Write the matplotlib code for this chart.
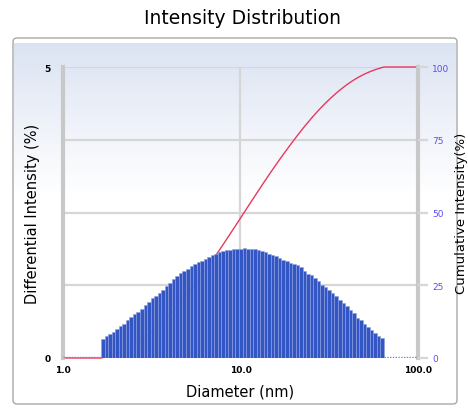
import numpy as np
import matplotlib
matplotlib.use("Agg")
import matplotlib.pyplot as plt
from matplotlib.patches import FancyBboxPatch

# differential intensity (%) per size bin
intensity = [0.335, 0.37, 0.41, 0.455, 0.50, 0.55, 0.59, 0.65, 0.70, 0.75,
             0.79, 0.84, 0.91, 0.97, 1.03, 1.07, 1.12, 1.17, 1.23, 1.29,
             1.36, 1.41, 1.46, 1.50, 1.53, 1.58, 1.62, 1.65, 1.675, 1.70,
             1.735, 1.77, 1.795, 1.82, 1.84, 1.85, 1.856, 1.865, 1.873, 1.88,
             1.89, 1.88, 1.873, 1.865, 1.856, 1.84, 1.82, 1.795, 1.77, 1.745,
             1.72, 1.69, 1.665, 1.64, 1.62, 1.59, 1.555, 1.495, 1.45, 1.42,
             1.375, 1.315, 1.255, 1.22, 1.16, 1.11, 1.06, 1.005, 0.945, 0.885,
             0.825, 0.775, 0.695, 0.645, 0.585, 0.53, 0.48, 0.43, 0.385, 0.345]
d_low, d_high = 1.64, 64.3          # first / last bin edge (nm)
x_ticks = [1.0, 10.0, 100.0]
x_ticklabels = ["1.0", "10.0", "100.0"]
right_ticks = [0, 25, 50, 75, 100]

edges = np.geomspace(d_low, d_high, len(intensity) + 1)
vals = np.array(intensity)
cum = np.cumsum(vals) / vals.sum() * 100

fig = plt.figure(figsize=(4.68, 4.10), dpi=100)

# background panel with blue gradient + rounded frame
bg = fig.add_axes([0, 0, 1, 1], zorder=-10)
bg.set_xlim(0, 468)
bg.set_ylim(410, 0)
bg.axis("off")
grad = np.ones((300, 2, 3))
top_c = np.array([0.86, 0.89, 0.95])
for k in range(300):
    t = min(k / 150.0, 1.0)
    grad[k, :, :] = top_c * (1 - t) + np.array([1, 1, 1]) * t
bg.imshow(grad, extent=[14, 456, 344, 44], aspect="auto", zorder=0)
bg.add_patch(FancyBboxPatch((13, 39), 444, 366, boxstyle="round,pad=0,rounding_size=4",
                            fill=False, ec="#a8a8a8", lw=1.0, zorder=1))

ax = fig.add_axes([63 / 468, 1 - 359 / 410, 355 / 468, 291 / 410])
ax.patch.set_alpha(0)
ax.set_xscale("log")
ax.set_xlim(1.0, 100.0)
ax.set_ylim(0, 5)

# grid
for yv in [1.25, 2.5, 3.75, 5.0]:
    ax.axhline(yv, color="#d6d6d6", lw=1.6, zorder=0)
ax.axvline(10.0, color="#d6d6d6", lw=1.6, zorder=0)

# cumulative curve (drawn behind the bars, scaled to left axis)
cx = np.concatenate([[1.0, d_low], edges[1:], [100.0]])
cy = np.concatenate([[0, 0], cum, [100]])
ax.plot(cx, cy * 0.05, color="#e63a5c", lw=1.0, zorder=1, clip_on=False)

ax.bar(edges[:-1], vals, width=np.diff(edges), align="edge",
       color="#3456c4", edgecolor="#8ea2e0", lw=0.4, zorder=2)
ax.plot([1.0, d_low], [0.01, 0.01], color="#6f86d8", lw=1.0, ls=(0, (1, 1)), zorder=3)
ax.plot([d_high, 100.0], [0.01, 0.01], color="#6f86d8", lw=1.0, ls=(0, (1, 1)), zorder=3)

for s in ["top", "bottom"]:
    ax.spines[s].set_visible(False)
for s in ["left", "right"]:
    ax.spines[s].set_color("#c8c8c8")
    ax.spines[s].set_linewidth(3)

ax.set_xticks(x_ticks)
ax.set_xticklabels(x_ticklabels, fontsize=6.5, fontweight="bold")
ax.xaxis.set_minor_locator(matplotlib.ticker.NullLocator())
ax.tick_params(axis="x", length=0, pad=5)
ax.set_yticks([0, 5])
ax.set_yticklabels(["0", "5"], fontsize=6.5, fontweight="bold")
ax.tick_params(axis="y", length=0, pad=9)
ax.set_xlabel("Diameter (nm)", fontsize=10.5, labelpad=7)
ax.set_ylabel("Differential Intensity (%)", fontsize=10.5, labelpad=3)

ax2 = ax.twinx()
ax2.set_ylim(0, 100)
ax2.set_yticks(right_ticks)
ax2.set_yticklabels([str(t) for t in right_ticks], fontsize=6.5, color="#5b4ff0")
ax2.tick_params(axis="y", length=7, width=1.6, color="#d6d6d6", pad=3)
for s in ax2.spines.values():
    s.set_visible(False)
ax2.set_ylabel("Cumulative Intensity(%)", fontsize=9.5, labelpad=4)

fig.text(242 / 468, 1 - 18 / 410, "Intensity Distribution", fontsize=13.5,
         ha="center", va="center")

fig.savefig("out.png", dpi=100)
